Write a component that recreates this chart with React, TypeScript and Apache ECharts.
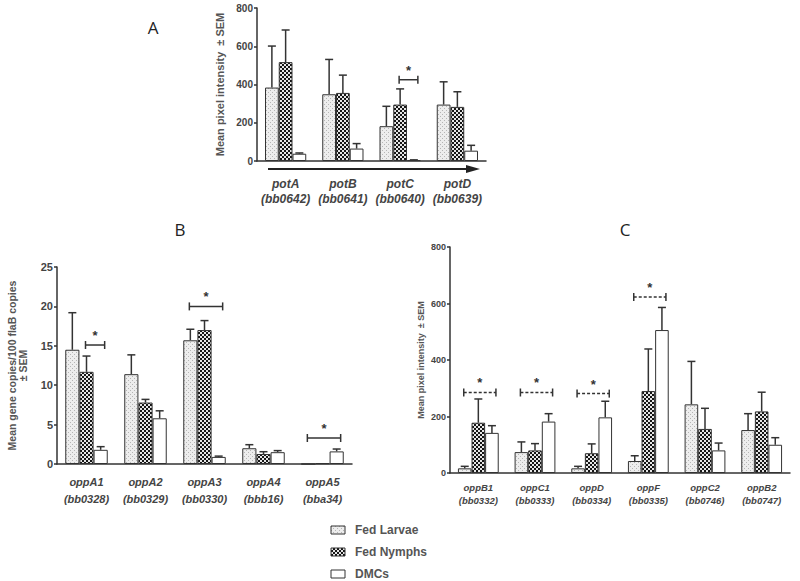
import React, { useEffect, useRef } from "react";
import * as echarts from "echarts";

const seriesNames = ["Fed Larvae", "Fed Nymphs", "DMCs"];

// Panel A
const genesA = ["potA", "potB", "potC", "potD"];
const lociA = ["(bb0642)", "(bb0641)", "(bb0640)", "(bb0639)"];
const larvaeA = [384, 349, 182, 295];
const nymphsA = [517, 356, 295, 283];
const dmcA = [38, 65, 5, 54];
const larvaeErrA = [601, 531, 286, 414];
const nymphsErrA = [685, 449, 377, 362];
const dmcErrA = [42, 91, 6, 82];
const bracketsA = [{ cat: 2, from: 1, to: 2, y: 425 }];

// Panel B
const genesB = ["oppA1", "oppA2", "oppA3", "oppA4", "oppA5"];
const lociB = ["(bb0328)", "(bb0329)", "(bb0330)", "(bbb16)", "(bba34)"];
const larvaeB = [14.5, 11.4, 15.7, 2.0, 0];
const nymphsB = [11.7, 7.8, 17.0, 1.27, 0.1];
const dmcB = [1.8, 5.8, 0.9, 1.5, 1.6];
const larvaeErrB = [19.2, 13.85, 17.1, 2.45, 0];
const nymphsErrB = [13.7, 8.2, 18.2, 1.56, 0.1];
const dmcErrB = [2.2, 6.75, 1.0, 1.7, 1.9];
const bracketsB = [
  { cat: 0, from: 1, to: 2, y: 15.1 },
  { cat: 2, from: 0, to: 2, y: 20.0 },
  { cat: 4, from: 0, to: 2, y: 3.3 },
];

// Panel C
const genesC = ["oppB1", "oppC1", "oppD", "oppF", "oppC2", "oppB2"];
const lociC = ["(bb0332)", "(bb0333)", "(bb0334)", "(bb0335)", "(bb0746)", "(bb0747)"];
const larvaeC = [16.5, 74, 16.5, 42.5, 243, 152];
const nymphsC = [178, 80, 70, 290, 156, 218];
const dmcC = [142, 182, 197, 506, 80, 100];
const larvaeErrC = [23.6, 110, 23.6, 61, 395, 210];
const nymphsErrC = [262, 104, 103, 439, 229, 286];
const dmcErrC = [167.5, 210, 254, 586, 106, 125];
const bracketsC = [
  { cat: 0, from: 0, to: 2, y: 285 },
  { cat: 1, from: 0, to: 2, y: 285 },
  { cat: 2, from: 0, to: 2, y: 281 },
  { cat: 3, from: 0, to: 2, y: 623 },
];

const FONT = "'Liberation Sans', Arial, sans-serif";
const GAP = 0.28;
const AXIS = "#333";
const TEXT = "#444";

function makeCanvas(w: number, h: number, draw: (ctx: CanvasRenderingContext2D) => void) {
  const c = document.createElement("canvas");
  c.width = w;
  c.height = h;
  const ctx = c.getContext("2d")!;
  draw(ctx);
  return c;
}

function barX(api: any, cat: number, bar: number) {
  const c = api.coord([cat, 0])[0];
  const band = api.size([1, 0])[0];
  const w = (band * (1 - GAP)) / 3;
  return c + (bar - 1) * w;
}

interface PanelCfg {
  idx: number;
  grid: { left: number; top: number; width: number; height: number };
  genes: string[];
  loci: string[];
  values: number[][];
  errs: number[][];
  brackets: { cat: number; from: number; to: number; y: number }[];
  max: number;
  interval: number;
  yName: string;
  nameGap: number;
  nameSize: number;
  tickSize: number;
  catSize: number;
  catLineHeight: number;
  labelMargin: number;
  dashed: boolean;
  colors: any[];
}

function buildPanel(p: PanelCfg) {
  const cats = p.genes.map((g, i) => g + "\n" + p.loci[i]);
  const xAxis = {
    type: "category",
    gridIndex: p.idx,
    data: cats,
    axisLine: { lineStyle: { color: AXIS, width: 1.5 } },
    axisTick: { alignWithLabel: true, length: 4, lineStyle: { color: AXIS, width: 1.5 } },
    axisLabel: {
      interval: 0,
      margin: p.labelMargin,
      fontSize: p.catSize,
      lineHeight: p.catLineHeight,
      fontStyle: "italic",
      fontWeight: "bold",
      color: TEXT,
      fontFamily: FONT,
    },
  };
  const yAxis = {
    type: "value",
    gridIndex: p.idx,
    min: 0,
    max: p.max,
    interval: p.interval,
    splitLine: { show: false },
    axisLine: { show: true, lineStyle: { color: AXIS, width: 1.5 } },
    axisTick: { show: true, length: 3, lineStyle: { color: AXIS, width: 1.5 } },
    axisLabel: { fontSize: p.tickSize, fontWeight: "bold", color: TEXT, fontFamily: FONT, margin: 4 },
    name: p.yName,
    nameLocation: "middle",
    nameGap: p.nameGap,
    nameTextStyle: {
      fontSize: p.nameSize,
      fontWeight: "bold",
      color: "#555",
      fontFamily: FONT,
      lineHeight: p.nameSize + 1,
    },
  };
  const series: any[] = [];
  seriesNames.forEach((n, k) => {
    series.push({
      type: "bar",
      name: n,
      xAxisIndex: p.idx,
      yAxisIndex: p.idx,
      data: p.values[k],
      barGap: "0%",
      barCategoryGap: GAP * 100 + "%",
      itemStyle: { color: p.colors[k], borderColor: AXIS, borderWidth: 1 },
      z: 3,
    });
  });
  const errData: number[][] = [];
  p.values.forEach((vals, k) => {
    vals.forEach((v, c) => errData.push([c, k, v, p.errs[k][c]]));
  });
  series.push({
    type: "custom",
    xAxisIndex: p.idx,
    yAxisIndex: p.idx,
    data: errData,
    encode: { x: 0, y: 3 },
    z: 2,
    silent: true,
    renderItem: (params: any, api: any) => {
      const cat = api.value(0);
      const bar = api.value(1);
      const v = api.value(2);
      const e = api.value(3);
      if (!(e > v)) return null;
      const x = barX(api, cat, bar);
      const y1 = api.coord([cat, v])[1];
      const y2 = api.coord([cat, e])[1];
      return {
        type: "group",
        children: [
          { type: "line", shape: { x1: x, y1, x2: x, y2 }, style: { stroke: AXIS, lineWidth: 1.5 } },
          { type: "line", shape: { x1: x - 4, y1: y2, x2: x + 4, y2 }, style: { stroke: AXIS, lineWidth: 1.5 } },
        ],
      };
    },
  });
  series.push({
    type: "custom",
    xAxisIndex: p.idx,
    yAxisIndex: p.idx,
    data: p.brackets.map((b) => [b.cat, b.from, b.to, b.y]),
    encode: { x: 0, y: 3 },
    z: 4,
    silent: true,
    renderItem: (params: any, api: any) => {
      const cat = api.value(0);
      const xs = barX(api, cat, api.value(1)) - 1;
      const xe = barX(api, cat, api.value(2)) + 4;
      const y = api.coord([cat, api.value(3)])[1];
      const st: any = { stroke: AXIS, lineWidth: 1.5 };
      const hs: any = { ...st };
      if (p.dashed) hs.lineDash = [3, 2];
      return {
        type: "group",
        children: [
          { type: "line", shape: { x1: xs, y1: y, x2: xe, y2: y }, style: hs },
          { type: "line", shape: { x1: xs, y1: y - 4, x2: xs, y2: y + 4 }, style: st },
          { type: "line", shape: { x1: xe, y1: y - 4, x2: xe, y2: y + 4 }, style: st },
          {
            type: "text",
            x: (xs + xe) / 2,
            y: y - 3,
            style: {
              text: "*",
              fontSize: 13,
              fontWeight: "bold",
              fontFamily: FONT,
              fill: "#333",
              align: "center",
              verticalAlign: "bottom",
            },
          },
        ],
      };
    },
  });
  return { grid: { ...p.grid, containLabel: false }, xAxis, yAxis, series };
}

export default function App() {
  const ref = useRef<HTMLDivElement>(null);
  useEffect(() => {
    if (!ref.current) return;
    const chart = echarts.init(ref.current, undefined, { renderer: "svg" });

    const larvaePat = makeCanvas(4, 4, (ctx) => {
      ctx.fillStyle = "#ededed";
      ctx.fillRect(0, 0, 4, 4);
      ctx.fillStyle = "#b5b5b5";
      ctx.fillRect(0, 0, 1, 1);
      ctx.fillRect(2, 2, 1, 1);
    });
    const nymphPat = makeCanvas(4, 4, (ctx) => {
      ctx.fillStyle = "#151515";
      ctx.fillRect(0, 0, 4, 4);
      ctx.fillStyle = "#e6e6e6";
      ctx.fillRect(0, 0, 2, 2);
      ctx.fillRect(2, 2, 2, 2);
    });
    const colors = [
      { image: larvaePat, repeat: "repeat", imageWidth: 4, imageHeight: 4 },
      { image: nymphPat, repeat: "repeat", imageWidth: 4, imageHeight: 4 },
      "#ffffff",
    ];

    const panels = [
      buildPanel({
        idx: 0,
        grid: { left: 257, top: 8, width: 229, height: 153 },
        genes: genesA,
        loci: lociA,
        values: [larvaeA, nymphsA, dmcA],
        errs: [larvaeErrA, nymphsErrA, dmcErrA],
        brackets: bracketsA,
        max: 800,
        interval: 200,
        yName: "Mean pixel intensity  ± SEM",
        nameGap: 31,
        nameSize: 11,
        tickSize: 10,
        catSize: 12,
        catLineHeight: 15,
        labelMargin: 15,
        dashed: false,
        colors,
      }),
      buildPanel({
        idx: 1,
        grid: { left: 57, top: 267, width: 295, height: 197 },
        genes: genesB,
        loci: lociB,
        values: [larvaeB, nymphsB, dmcB],
        errs: [larvaeErrB, nymphsErrB, dmcErrB],
        brackets: bracketsB,
        max: 25,
        interval: 5,
        yName: "Mean gene copies/100 flaB copies\n± SEM",
        nameGap: 28,
        nameSize: 10.5,
        tickSize: 11,
        catSize: 11,
        catLineHeight: 17,
        labelMargin: 9,
        dashed: false,
        colors,
      }),
      buildPanel({
        idx: 2,
        grid: { left: 450, top: 247, width: 340, height: 226 },
        genes: genesC,
        loci: lociC,
        values: [larvaeC, nymphsC, dmcC],
        errs: [larvaeErrC, nymphsErrC, dmcErrC],
        brackets: bracketsC,
        max: 800,
        interval: 200,
        yName: "Mean pixel intensity  ± SEM",
        nameGap: 24,
        nameSize: 9,
        tickSize: 9,
        catSize: 9.5,
        catLineHeight: 13,
        labelMargin: 8,
        dashed: true,
        colors,
      }),
    ];

    const letterStyle = { fontSize: 17, fontFamily: "'Open Sans', Arial, sans-serif", fill: "#222" };

    const legendY = [530, 552, 574];
    const legendGraphics: any[] = [];
    seriesNames.forEach((n, k) => {
      legendGraphics.push({
        type: "rect",
        x: 331,
        y: legendY[k] - 4,
        shape: { x: 0, y: 0, width: 14, height: 8 },
        style: { fill: colors[k], stroke: AXIS, lineWidth: 1 },
      });
      legendGraphics.push({
        type: "text",
        x: 355,
        y: legendY[k],
        style: {
          text: n,
          fontSize: 12,
          fontWeight: "bold",
          fontFamily: FONT,
          fill: "#555",
          verticalAlign: "middle",
        },
      });
    });

    chart.setOption({
      animation: false,
      backgroundColor: "#ffffff",
      grid: panels.map((p) => p.grid),
      xAxis: panels.map((p) => p.xAxis),
      yAxis: panels.map((p) => p.yAxis),
      series: panels.flatMap((p) => p.series),
      graphic: [
        { type: "text", x: 153, y: 27, style: { ...letterStyle, text: "A", align: "center", verticalAlign: "middle" } },
        { type: "text", x: 180, y: 229, style: { ...letterStyle, text: "B", align: "center", verticalAlign: "middle" } },
        { type: "text", x: 625, y: 229, style: { ...letterStyle, text: "C", align: "center", verticalAlign: "middle" } },
        { type: "line", shape: { x1: 268, y1: 169, x2: 470, y2: 169 }, style: { stroke: "#222", lineWidth: 2.2 } },
        { type: "polygon", shape: { points: [[466, 165], [480, 169], [466, 173]] }, style: { fill: "#222" } },
        ...legendGraphics,
      ],
    });
    return () => chart.dispose();
  }, []);
  return <div ref={ref} style={{ position: "fixed", left: 0, top: 0, width: 800, height: 581 }} />;
}
